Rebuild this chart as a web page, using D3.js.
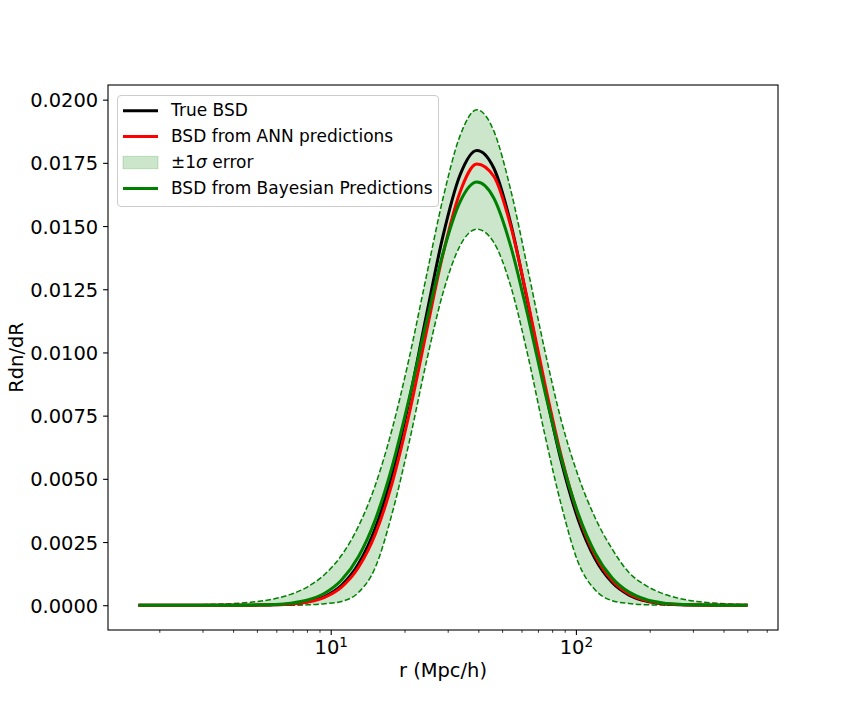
<!DOCTYPE html>
<html>
<head>
<meta charset="utf-8">
<script src="https://cdn.jsdelivr.net/npm/d3@7"></script>
<style>
  html, body { margin: 0; padding: 0; background: #ffffff; }
  text { font-family: "DejaVu Sans", sans-serif; }
</style>
</head>
<body>
<script>
// ---- data ----
const radius = [1.644, 1.928, 2.259, 2.649, 3.105, 3.639, 4.266, 5.000, 5.861, 6.871, 8.054, 9.441,
  11.07, 12.97, 15.21, 17.82, 20.89, 24.49, 28.71, 33.65, 39.45, 46.24, 54.20, 63.53, 74.47, 87.30,
  102.3, 119.9, 140.6, 164.8, 193.2, 226.5, 265.5, 311.2, 364.8, 427.6, 501.2];

const trueBSD = [0, 0, 0, 0, 0, 0, 0, 0.000005, 0.0000165, 0.000050, 0.000138, 0.000346,
  0.000786, 0.001627, 0.003055, 0.005215, 0.008093, 0.011407, 0.014612, 0.017010, 0.017993, 0.017296,
  0.015107, 0.011992, 0.008649, 0.005668, 0.003375, 0.001827, 0.000899, 0.000401, 0.000163, 0.000060,
  0.000020, 0.000006, 0.000002, 0, 0];

const annBSD = [0, 0, 0, 0, 0, 0, 0, 0.000004, 0.000015, 0.000045, 0.000125, 0.000315,
  0.000718, 0.001493, 0.002818, 0.004842, 0.007565, 0.010751, 0.013894, 0.016330, 0.017456, 0.016970,
  0.015007, 0.012067, 0.008826, 0.005870, 0.003551, 0.001954, 0.000978, 0.000445, 0.000184, 0.000069,
  0.000024, 0.000007, 0.000002, 0, 0];

const bayesBSD = [0, 0, 0, 0, 0, 0, 0.000003, 0.000010, 0.000030, 0.000082, 0.000206, 0.000473,
  0.000995, 0.001919, 0.003395, 0.005504, 0.008183, 0.011147, 0.013924, 0.015945, 0.016738, 0.016107,
  0.014207, 0.011490, 0.008519, 0.005789, 0.003607, 0.002061, 0.001078, 0.000518, 0.000228, 0.000092,
  0.000034, 0.000012, 0.000004, 0.000001, 0];

const upperBSD = [0.000002, 0.000004, 0.000008, 0.000014, 0.000025, 0.000045, 0.000081, 0.000143,
  0.000250, 0.000430, 0.000730, 0.001216, 0.001975, 0.003117, 0.004757, 0.006983, 0.009775, 0.012958,
  0.016100, 0.018558, 0.019600, 0.018765, 0.016433, 0.013330, 0.010131, 0.007280, 0.005100, 0.003450,
  0.002220, 0.001288, 0.000775, 0.000458, 0.000265, 0.000152, 0.000086, 0.000048, 0.000027];

const lowerBSD = [0, 0, 0, 0, 0, 0, 0, 0, 0, 0, 0.000016, 0.000059,
  0.000150, 0.000500, 0.001500, 0.003647, 0.006443, 0.009575, 0.012358, 0.014213, 0.014880, 0.014354,
  0.012628, 0.009926, 0.006803, 0.003936, 0.001680, 0.000600, 0.000180, 0.000068, 0.000019, 0.000005,
  0, 0, 0, 0, 0];

const yTicks = [0.0000, 0.0025, 0.0050, 0.0075, 0.0100, 0.0125, 0.0150, 0.0175, 0.0200];
const xMajorTicks = [10, 100];
const xMajorExponents = ["1", "2"];
const xMinorTicks = [2, 3, 4, 5, 6, 7, 8, 9, 20, 30, 40, 50, 60, 70, 80, 90, 200, 300, 400, 500, 600];
const legendLabels = ["True BSD", "BSD from ANN predictions", "±1σ error", "BSD from Bayesian Predictions"];
const xLabel = "r (Mpc/h)";
const yLabel = "Rdn/dR";

// ---- layout ----
const W = 864, H = 720;
const plot = { left: 108, right: 778, top: 85, bottom: 630 };

const svg = d3.select("body").append("svg").attr("width", W).attr("height", H);

// scales with matplotlib-like 5% margins
const lx = d3.extent(radius).map(Math.log10);
const padX = 0.05 * (lx[1] - lx[0]);
const x = d3.scaleLog()
  .domain([Math.pow(10, lx[0] - padX), Math.pow(10, lx[1] + padX)])
  .range([plot.left, plot.right]);

const allY = [].concat(trueBSD, annBSD, bayesBSD, upperBSD, lowerBSD);
const yMin = d3.min(allY), yMax = d3.max(allY);
const padY = 0.05 * (yMax - yMin);
const y = d3.scaleLinear().domain([yMin - padY, yMax + padY]).range([plot.bottom, plot.top]);

const pts = radius.map((r, i) => ({ r, t: trueBSD[i], a: annBSD[i], b: bayesBSD[i], u: upperBSD[i], l: lowerBSD[i] }));

const curve = d3.curveMonotoneX;
svg.append("clipPath").attr("id", "clip").append("rect")
  .attr("x", plot.left).attr("y", plot.top)
  .attr("width", plot.right - plot.left).attr("height", plot.bottom - plot.top);

const g = svg.append("g").attr("clip-path", "url(#clip)");

// band
g.append("path")
  .datum(pts)
  .attr("d", d3.area().curve(curve).x(d => x(d.r)).y0(d => y(d.l)).y1(d => y(d.u)))
  .attr("fill", "green").attr("fill-opacity", 0.2).attr("stroke", "none");

const mkLine = key => d3.line().curve(curve).x(d => x(d.r)).y(d => y(d[key]));

// dashed bounds
["u", "l"].forEach(k => {
  g.append("path").datum(pts).attr("d", mkLine(k))
    .attr("fill", "none").attr("stroke", "green").attr("stroke-width", 1.5)
    .attr("stroke-dasharray", "5.55,2.4");
});

// main lines
[["t", "black"], ["a", "red"], ["b", "green"]].forEach(([k, c]) => {
  g.append("path").datum(pts).attr("d", mkLine(k))
    .attr("fill", "none").attr("stroke", c).attr("stroke-width", 3)
    .attr("stroke-linejoin", "round");
});

// ---- axes ----
const fs = 19.44;
const yAxis = svg.append("g").attr("transform", `translate(${plot.left},0)`)
  .call(d3.axisLeft(y).tickValues(yTicks).tickFormat(d => d.toFixed(4)).tickSize(4.9).tickPadding(4.9));
yAxis.select(".domain").remove();
yAxis.selectAll(".tick line").attr("stroke", "#000").attr("stroke-width", 1.1);
yAxis.selectAll(".tick text").attr("font-size", fs).attr("fill", "#000")
  .attr("font-family", "DejaVu Sans").attr("dy", "0.36em");

const xMinor = svg.append("g").attr("transform", `translate(0,${plot.bottom})`)
  .call(d3.axisBottom(x).tickValues(xMinorTicks).tickFormat("").tickSize(2.8));
xMinor.select(".domain").remove();
xMinor.selectAll(".tick line").attr("stroke", "#000").attr("stroke-width", 0.8);

const xAxis = svg.append("g").attr("transform", `translate(0,${plot.bottom})`)
  .call(d3.axisBottom(x).tickValues(xMajorTicks).tickFormat("").tickSize(4.9).tickPadding(4.9));
xAxis.select(".domain").remove();
xAxis.selectAll(".tick line").attr("stroke", "#000").attr("stroke-width", 1.1);
xAxis.selectAll(".tick text").each(function (d, i) {
  const t = d3.select(this);
  t.text(null).attr("font-size", fs).attr("fill", "#000").attr("font-family", "DejaVu Sans")
    .attr("y", 9.8).attr("dy", "0.71em");
  t.append("tspan").text("10");
  t.append("tspan").attr("font-size", fs * 0.7).attr("dy", -6.5).text(xMajorExponents[i]);
});

// frame
svg.append("rect")
  .attr("x", plot.left).attr("y", plot.top)
  .attr("width", plot.right - plot.left).attr("height", plot.bottom - plot.top)
  .attr("fill", "none").attr("stroke", "#000").attr("stroke-width", 1.1);

// axis labels
svg.append("text").attr("x", (plot.left + plot.right) / 2).attr("y", 677)
  .attr("text-anchor", "middle").attr("font-size", fs).attr("fill", "#000").text(xLabel);
svg.append("text").attr("transform", `translate(23.3,${(plot.top + plot.bottom) / 2}) rotate(-90)`)
  .attr("text-anchor", "middle").attr("font-size", fs).attr("fill", "#000").text(yLabel);

// ---- legend ----
const lg = svg.append("g");
lg.append("rect").attr("x", 117.5).attr("y", 95.5).attr("width", 321).attr("height", 111)
  .attr("rx", 3.5).attr("fill", "#fff").attr("fill-opacity", 0.8)
  .attr("stroke", "#cccccc").attr("stroke-width", 1);
const rowY = i => 110.7 + i * 25.9;
const hx0 = 123, hx1 = 158;
const styles = [
  { type: "line", color: "black" },
  { type: "line", color: "red" },
  { type: "patch", color: "green" },
  { type: "line", color: "green" }
];
styles.forEach((s, i) => {
  const cy = rowY(i);
  if (s.type === "line") {
    lg.append("line").attr("x1", hx0).attr("x2", hx1).attr("y1", cy).attr("y2", cy)
      .attr("stroke", s.color).attr("stroke-width", 3);
  } else {
    lg.append("rect").attr("x", hx0).attr("y", cy - 6.2).attr("width", hx1 - hx0).attr("height", 12.4)
      .attr("fill", s.color).attr("fill-opacity", 0.2)
      .attr("stroke", s.color).attr("stroke-opacity", 0.2).attr("stroke-width", 1);
  }
  const t = lg.append("text").attr("x", 171).attr("y", cy).attr("dy", "0.33em")
    .attr("font-size", 17).attr("fill", "#000");
  if (i === 2) {
    const lab = legendLabels[i];
    t.append("tspan").text(lab.slice(0, 2));
    t.append("tspan").attr("font-style", "italic").text(lab.slice(2, 3));
    t.append("tspan").text(lab.slice(3));
  } else {
    t.text(legendLabels[i]);
  }
});
</script>
</body>
</html>
